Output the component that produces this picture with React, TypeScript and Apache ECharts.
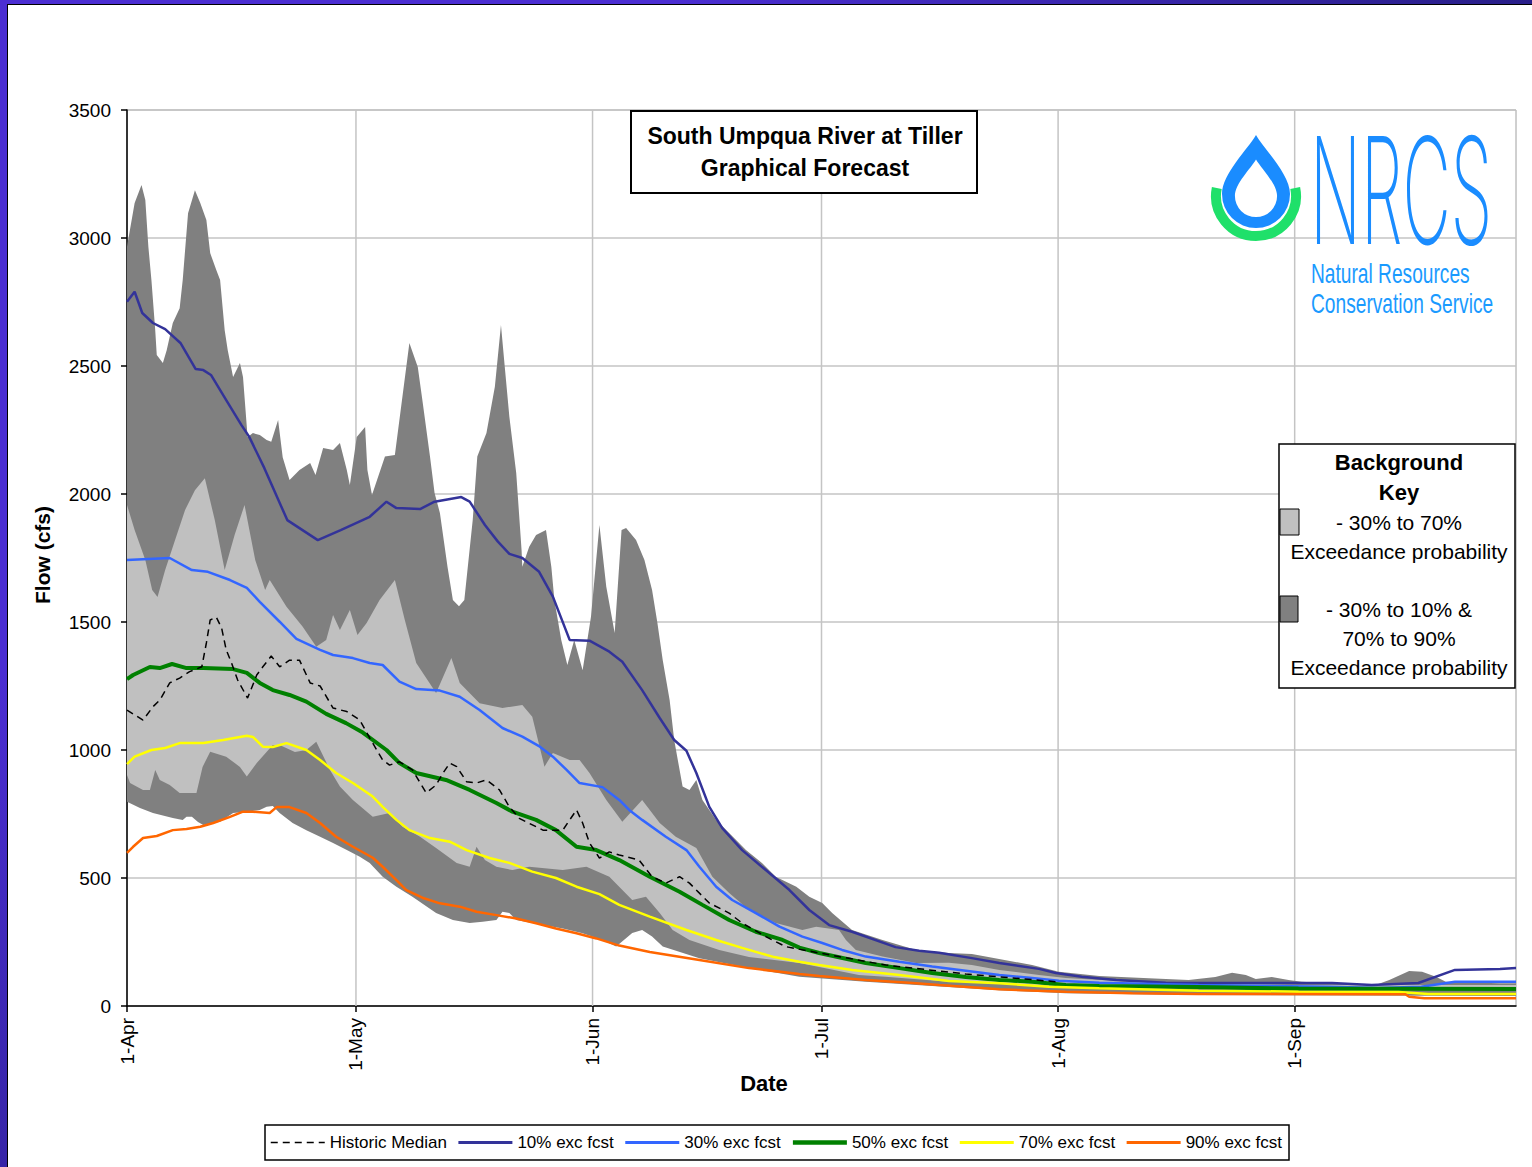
import React, { useEffect, useRef } from 'react';
import * as echarts from 'echarts';

const FONT = '"Liberation Sans", Arial, sans-serif';

const monthDays = [0, 30, 61, 91, 122, 153];
const monthLabels = ['1-Apr', '1-May', '1-Jun', '1-Jul', '1-Aug', '1-Sep'];
const dayMax = 182;

type P = [number, number];

// 10%-90% exceedance background band (dark gray)
const bandOuterTop: P[] = [[0,2966],[1,3137],[1.9,3207],[2.4,3148],[2.8,2966],[3.2,2836],[3.7,2640],[3.9,2543],[4.7,2512],[5.2,2562],[6,2668],[6.9,2726],[7.3,2836],[8,3097],[8.9,3187],[9.6,3137],[10.4,3070],[10.9,2941],[11.7,2875],[12.2,2836],[12.8,2640],[13.2,2562],[13.9,2457],[14.8,2512],[15.2,2457],[15.8,2223],[16.5,2238],[17.4,2230],[18.3,2211],[18.9,2204],[19.8,2289],[20.4,2144],[21.3,2055],[22.6,2094],[24,2121],[24.7,2074],[25.7,2180],[27,2172],[27.9,2199],[28.8,2094],[29.2,2035],[30.1,2223],[31.2,2262],[31.5,2094],[32.1,1996],[33.8,2146],[35.1,2152],[37,2590],[38.1,2496],[38.7,2367],[39.7,2146],[40.3,2004],[41,1926],[42,1715],[42.7,1586],[43.5,1562],[44.2,1586],[45.3,1898],[45.9,2146],[47.1,2238],[48.2,2419],[49,2660],[49.5,2496],[50.1,2302],[51,2082],[51.7,1781],[51.8,1716],[52.7,1794],[53.6,1840],[54.9,1859],[55.6,1716],[56,1586],[56.9,1430],[57.7,1332],[58.6,1430],[59.7,1312],[60.8,1521],[61.9,1879],[62.8,1638],[63.9,1457],[64.8,1859],[65.4,1867],[66.7,1820],[67.8,1742],[68.8,1625],[69.5,1496],[70.2,1351],[71.1,1195],[71.7,1039],[72.8,857],[73.7,844],[74.6,883],[75.4,805],[77.2,727],[78.9,676],[81.1,609],[83.2,559],[85,505],[87.7,466],[89.4,427],[91.1,402],[92.4,363],[95,297],[99,258],[103.4,219],[107.7,207],[110.7,203],[112.5,193],[118.6,160],[122.1,134],[127.4,117],[133.9,108],[139.1,102],[142.6,113],[144.8,130],[146.6,121],[147.9,105],[150,113],[152.2,102],[153.9,95],[157.9,89],[163.6,82],[165.4,102],[168,137],[169.7,134],[171.5,114],[172.8,95],[179.8,89],[182,89]];
const bandOuterBottom: P[] = [[0,798],[1.7,773],[3.4,754],[6,734],[7.3,727],[7.8,739],[8.5,739],[9.3,719],[10,707],[12.2,720],[13.9,754],[15.7,759],[17.4,766],[18.3,778],[19.1,781],[20,754],[21.7,715],[23.5,687],[25.3,661],[27,637],[28.8,609],[30.5,583],[31.8,559],[33.5,505],[35.3,466],[37.4,427],[40.5,363],[42.7,336],[44.9,324],[46.6,329],[48.4,336],[49.2,368],[50.1,363],[51,336],[54.5,316],[57.1,303],[59.7,284],[62.3,258],[64.1,232],[66.2,285],[67.5,297],[68.8,271],[70.2,232],[75,187],[81.5,148],[88.1,114],[96.8,95],[105.5,78],[114.3,62],[123,50],[140.4,43],[182,39]];

// 30%-70% exceedance background band (light gray)
const bandInnerTop: P[] = [[0,1957],[1,1859],[2.4,1742],[3.3,1625],[4,1598],[5,1703],[6.3,1820],[7.6,1937],[8.9,2015],[10.2,2062],[11.5,1898],[12.8,1703],[14.1,1840],[15.4,1957],[16.8,1742],[18.1,1625],[18.7,1664],[20.9,1560],[23,1482],[24.8,1403],[26.1,1430],[27,1527],[27.9,1469],[29.2,1547],[30.2,1449],[31.4,1496],[33.1,1586],[35.1,1664],[36.4,1508],[37.9,1340],[40.5,1223],[42.5,1359],[43.6,1262],[46.2,1183],[49.2,1164],[51.8,1176],[53.1,1130],[54.7,935],[55.8,988],[58,961],[59.3,961],[60.6,910],[62.8,805],[64.9,720],[67.5,805],[69.8,715],[71.9,661],[74.6,617],[76.7,505],[78.9,441],[81.5,375],[85,324],[88.5,297],[90.3,310],[93.3,297],[94.2,258],[95.5,219],[99,193],[103.4,168],[107.7,169],[110.7,160],[114.3,141],[119.5,121],[123,109],[131.7,95],[140.4,90],[153.5,82],[182,82]];
const bandInnerBottom: P[] = [[0,902],[0.4,871],[2.1,844],[3,844],[3.7,922],[4.3,883],[5.6,863],[6.9,832],[9.1,832],[9.9,934],[10.9,993],[13,974],[14.8,934],[15.7,896],[17,949],[19.1,1020],[20,1020],[22,992],[23.5,1000],[24.8,1032],[26.6,922],[27.9,857],[29.6,805],[32.2,739],[34.4,754],[36.1,700],[38.4,661],[40.5,617],[43.2,559],[44.9,544],[45.8,622],[46.9,570],[48.4,544],[50.5,531],[52.7,544],[57.1,531],[60.2,544],[63.2,505],[66.2,414],[68,427],[69.8,363],[71.5,297],[73.7,258],[77.6,219],[81.5,191],[88.1,168],[95.9,121],[99.4,114],[107.7,95],[114.3,90],[123,75],[140.4,70],[182,70]];

// Lines
const historicMedian: P[] = [[0,1156],[2.1,1117],[3.4,1169],[4.3,1195],[5.6,1262],[6.9,1281],[8.2,1306],[9.8,1325],[10.4,1418],[10.9,1508],[11.7,1519],[12.4,1476],[13,1391],[13.7,1340],[14.5,1273],[15.8,1203],[17,1293],[17.8,1325],[18.9,1367],[20,1325],[21.3,1351],[22.6,1351],[24,1262],[25.3,1250],[27,1164],[28.8,1150],[30.5,1117],[31.8,1047],[33.5,961],[34.4,941],[35.7,954],[37.4,922],[39.2,833],[40.5,863],[41.4,910],[42.3,949],[43.2,935],[44.5,876],[45.8,871],[47.1,883],[48.8,844],[50.1,778],[51.4,733],[54.5,687],[57.1,687],[58.9,766],[59.7,715],[60.6,637],[61.9,578],[63.2,602],[64.5,590],[67.1,570],[68.8,505],[70.6,480],[72.4,505],[73.7,480],[76.3,402],[78.9,363],[80.6,324],[83.7,271],[86.3,232],[90.7,207],[93.7,191],[99.4,160],[109.9,125],[121.7,95]];
const fcst10: P[] = [[0,2751],[1,2790],[2,2707],[3.4,2668],[5,2644],[7,2590],[9,2488],[10,2484],[11,2465],[13,2367],[15,2269],[16,2224],[18,2101],[21,1898],[25,1820],[28,1859],[31.8,1911],[34,1970],[35.3,1945],[38.4,1941],[40.3,1970],[43.8,1988],[44.9,1970],[46.9,1879],[48.6,1814],[50.1,1766],[51.8,1750],[54,1696],[55.8,1599],[58,1430],[60.6,1427],[63.2,1384],[64.9,1345],[67.5,1234],[69.8,1125],[71.7,1039],[73.3,997],[74.6,910],[76.3,778],[78,695],[80.6,609],[83.7,531],[86.8,453],[89.4,375],[92,316],[95,290],[100.7,230],[103.8,216],[106.4,208],[110.7,187],[114.3,168],[119.5,145],[121.7,129],[125.1,114],[129.6,102],[136.1,91],[140.4,90],[157.9,90],[163.1,82],[169.2,90],[174,141],[179.9,145],[182,148]];
const fcst30: P[] = [[0,1742],[5.6,1750],[8.5,1703],[10.6,1696],[13.5,1664],[15.7,1633],[17.4,1579],[20,1501],[22.2,1434],[25.3,1391],[27,1371],[29.6,1359],[31.8,1340],[33.5,1332],[35.7,1267],[37.9,1238],[41,1232],[43.6,1208],[46.2,1156],[49.2,1086],[51.8,1052],[54.1,1013],[55.8,974],[57.6,922],[59.3,871],[62.3,855],[64.5,805],[65.8,766],[67.5,727],[70.6,661],[73.3,609],[75,544],[77.2,466],[79.3,414],[82.4,363],[85.5,310],[88.5,271],[91.1,246],[93.7,219],[96.8,193],[101.2,173],[105.5,154],[109.9,138],[114.3,121],[118.6,109],[122.1,99],[127.4,91],[140.4,82],[157.5,75],[164,70],[169.6,75],[174,95],[182,95]];
const fcst50: P[] = [[0,1277],[0.8,1293],[3,1324],[4.3,1320],[5.9,1336],[7.8,1320],[10,1320],[13.9,1316],[15.7,1301],[17.4,1262],[19.1,1234],[21.3,1215],[23.5,1189],[26.1,1141],[28.7,1105],[30.9,1068],[34,1000],[35.7,949],[37.9,910],[41.8,883],[44.9,844],[48.4,793],[50.5,759],[53.6,727],[56.2,687],[58.9,622],[61.5,609],[64.5,570],[68.5,505],[72.4,446],[75.4,395],[78.9,336],[82.4,290],[85.9,258],[88.1,228],[90.7,207],[96.8,168],[101.2,148],[105.5,129],[109.9,113],[114.3,102],[118.6,95],[123,82],[127.4,78],[140.4,74],[153.5,68],[182,66]];
const fcst70: P[] = [[0,945],[1,974],[3.2,1000],[5,1008],[6.9,1027],[10,1027],[12.6,1039],[15.7,1056],[16.5,1051],[17.8,1013],[19.1,1012],[20.9,1027],[23.5,1000],[25.3,961],[27.4,910],[29.6,871],[32.2,818],[33.5,778],[35.3,727],[37,687],[39.7,656],[42.3,642],[44.5,609],[47.5,578],[50.1,559],[53.1,525],[56.2,500],[58.9,466],[61.9,437],[64.5,395],[68.5,349],[73.3,297],[77.2,258],[80.6,227],[84.8,191],[88.1,173],[90.7,160],[95,141],[101.2,121],[107.7,98],[114.3,89],[120.8,75],[127.4,69],[140.4,60],[153.5,56],[166.6,55],[170.5,47],[182,47]];
const fcst90: P[] = [[0,598],[0.8,622],[2.1,656],[3.9,664],[6,687],[7.8,691],[9.6,700],[11.3,715],[13.5,739],[15.2,759],[16.5,759],[18.7,754],[19.6,777],[21.3,777],[23.5,754],[25.3,715],[27.4,661],[29.6,622],[32.2,579],[33.5,544],[35.3,492],[36.6,453],[38.7,423],[41,401],[43.6,388],[45.8,368],[48.4,355],[51,342],[53.6,323],[56.2,303],[58.9,284],[61.5,264],[64.5,236],[68.5,211],[75,180],[81.5,148],[88.1,125],[90.7,117],[96.8,102],[102.5,91],[106.4,82],[114.3,65],[123,56],[131.7,50],[140.4,47],[167.5,46],[168,36],[170,30],[182,30]];

const lineNames = ['Historic Median', '10% exc fcst', '30% exc fcst', '50% exc fcst', '70% exc fcst', '90% exc fcst'];
const legendWidths = [1.5, 3, 3, 4.5, 3, 3];

echarts.graphic.registerShape(
  'nrcsDrop',
  echarts.graphic.extendPath('M0,-59 C8,-45 34,-20 34,0 A34,34 0 1 1 -34,0 C-34,-20 -8,-45 0,-59 Z', {})
);

function bandSeries(name: string, top: P[], bottom: P[], color: string) {
  return {
    type: 'custom',
    name,
    z: 2,
    silent: true,
    data: [[0, 0]],
    encode: { x: 0, y: 1 },
    renderItem: (_params: any, api: any) => {
      const pts = top.map((p) => api.coord(p));
      for (let i = bottom.length - 1; i >= 0; i--) pts.push(api.coord(bottom[i]));
      return { type: 'polygon', shape: { points: pts }, style: { fill: color } };
    },
  };
}

function lineSeries(name: string, data: P[], color: string, width: number, z: number, dashed = false) {
  return {
    type: 'line',
    name,
    data,
    z,
    symbol: 'none',
    showSymbol: false,
    silent: true,
    emphasis: { disabled: true },
    itemStyle: { color },
    lineStyle: { color, width, type: dashed ? [7, 5] : 'solid' },
  };
}

function txt(text: string, x: number, y: number, size: number, bold = false, align = 'center', extra: any = {}) {
  const { fill, family, weight, ...rest } = extra;
  return {
    type: 'text',
    x,
    y,
    z: 100,
    silent: true,
    ...rest,
    style: {
      text,
      fill: fill || '#000',
      font: `${weight ? weight + ' ' : bold ? 'bold ' : ''}${size}px ${family || FONT}`,
      textAlign: align,
      textVerticalAlign: 'middle',
    },
  };
}

export default function App() {
  const ref = useRef<HTMLDivElement>(null);
  useEffect(() => {
    const chart = echarts.init(ref.current!, null, { renderer: 'svg' });
    const option: any = {
      animation: false,
      textStyle: { fontFamily: FONT },
      grid: { left: 127, top: 110, right: 16, bottom: 161, show: true, borderColor: '#a0a0a0', borderWidth: 1, outerBoundsMode: 'none' },
      xAxis: {
        type: 'value',
        min: 0,
        max: dayMax,
        axisLine: { show: true, onZero: false, lineStyle: { color: '#000', width: 1.5 } },
        axisTick: { show: true, length: 6, customValues: monthDays, lineStyle: { color: '#000', width: 1.5 } },
        axisLabel: {
          customValues: monthDays,
          rotate: 90,
          fontSize: 19,
          color: '#000',
          margin: 12,
          formatter: (v: number) => {
            const i = monthDays.indexOf(Math.round(v));
            return i >= 0 ? monthLabels[i] : '';
          },
        },
        splitLine: { show: false },
      },
      yAxis: {
        type: 'value',
        min: 0,
        max: 3500,
        interval: 500,
        axisLine: { show: true, lineStyle: { color: '#000', width: 1.5 } },
        axisTick: { show: true, length: 6, lineStyle: { color: '#000', width: 1.5 } },
        axisLabel: { fontSize: 19, color: '#000', margin: 16, formatter: (v: number) => String(v) },
        splitLine: { show: true, lineStyle: { color: '#c4c4c4', width: 1.5 } },
      },
      legend: {
        data: lineNames.map((name, i) => ({ name, lineStyle: { width: legendWidths[i] } })),
        left: 265,
        top: 1125,
        itemWidth: 54,
        itemHeight: 14,
        itemGap: 10,
        padding: [9, 7, 9, 5],
        borderColor: '#000',
        borderWidth: 1.5,
        backgroundColor: '#fff',
        selectedMode: false,
        itemStyle: { opacity: 0 },
        textStyle: { fontSize: 17, color: '#000', fontFamily: FONT },
      },
      graphic: {
        elements: [
          // title box
          { type: 'rect', z: 99, silent: true, shape: { x: 631, y: 111, width: 346, height: 82 }, style: { fill: '#fff', stroke: '#000', lineWidth: 2 } },
          txt('South Umpqua River at Tiller', 805, 136, 23, true),
          txt('Graphical Forecast', 805, 168, 23, true),
          // axis titles
          txt('Date', 764, 1083, 22, true),
          txt('Flow (cfs)', 42, 555, 21, true, 'center', { rotation: Math.PI / 2 }),
          // background key
          { type: 'rect', z: 99, silent: true, shape: { x: 1279, y: 444, width: 236, height: 244 }, style: { fill: '#fff', stroke: '#000', lineWidth: 1.5 } },
          txt('Background', 1399, 462, 22, true),
          txt('Key', 1399, 492, 22, true),
          { type: 'rect', z: 100, silent: true, shape: { x: 1280, y: 509, width: 19, height: 26 }, style: { fill: '#c0c0c0', stroke: '#000', lineWidth: 1 } },
          txt('- 30% to 70%', 1399, 522, 21),
          txt('Exceedance probability', 1399, 551, 21),
          { type: 'rect', z: 100, silent: true, shape: { x: 1280, y: 596, width: 18, height: 26 }, style: { fill: '#808080', stroke: '#000', lineWidth: 1 } },
          txt('- 30% to 10% &', 1399, 609, 21),
          txt('70% to 90%', 1399, 638, 21),
          txt('Exceedance probability', 1399, 667, 21),
          // NRCS logo
          { type: 'arc', z: 100, silent: true, shape: { cx: 1256, cy: 196, r: 40, startAngle: -0.2, endAngle: Math.PI + 0.2, clockwise: true }, style: { stroke: '#1fe06a', lineWidth: 10, fill: 'none' } },
          { type: 'nrcsDrop', z: 101, silent: true, x: 1256, y: 194, scaleX: 1, scaleY: 1, style: { fill: '#1a8cff' } },
          { type: 'nrcsDrop', z: 102, silent: true, x: 1256, y: 196, scaleX: 0.62, scaleY: 0.62, style: { fill: '#fff' } },
          txt('NRCS', 1310, 190, 148, false, 'left', { scaleX: 0.45, fill: '#1a8cff', weight: 200, family: 'Inter, "Liberation Sans", sans-serif' }),
          txt('Natural Resources', 1311, 274, 27, false, 'left', { scaleX: 0.71, fill: '#1a9aff' }),
          txt('Conservation Service', 1311, 304, 27, false, 'left', { scaleX: 0.71, fill: '#1a9aff' }),
        ],
      },
      series: [
        {
          type: 'custom',
          name: 'vgrid',
          z: 1,
          silent: true,
          data: monthDays.slice(1).map((d) => [d, 0]),
          encode: { x: 0, y: 1 },
          renderItem: (_p: any, api: any) => {
            const d = api.value(0);
            const a = api.coord([d, 0]);
            const b = api.coord([d, 3500]);
            return { type: 'line', shape: { x1: a[0], y1: a[1], x2: b[0], y2: b[1] }, style: { stroke: '#c4c4c4', lineWidth: 1.5 } };
          },
        },
        bandSeries('outerBand', bandOuterTop, bandOuterBottom, '#808080'),
        bandSeries('innerBand', bandInnerTop, bandInnerBottom, '#c0c0c0'),
        lineSeries('10% exc fcst', fcst10, '#333399', 2.5, 3),
        lineSeries('30% exc fcst', fcst30, '#3366ff', 2.5, 3),
        lineSeries('50% exc fcst', fcst50, '#008000', 4, 3),
        lineSeries('70% exc fcst', fcst70, '#ffff00', 2.5, 3),
        lineSeries('90% exc fcst', fcst90, '#ff6600', 2.5, 3),
        lineSeries('Historic Median', historicMedian, '#000000', 1.5, 4, true),
      ],
    };
    chart.setOption(option);
    return () => chart.dispose();
  }, []);

  return (
    <div style={{ position: 'fixed', left: 0, top: 0, width: 1532, height: 1167, overflow: 'hidden', background: 'linear-gradient(135deg, #4b2ed2 0%, #4b2ed2 25%, #2a1f8c 55%, #1a1250 100%)' }}>
      <div style={{ position: 'absolute', left: 7, top: 4, right: 0, bottom: 0, background: '#fff', borderLeft: '1px solid #000', borderTop: '1px solid #000' }} />
      <div ref={ref} style={{ position: 'absolute', left: 0, top: 0, width: 1532, height: 1167 }} />
    </div>
  );
}
